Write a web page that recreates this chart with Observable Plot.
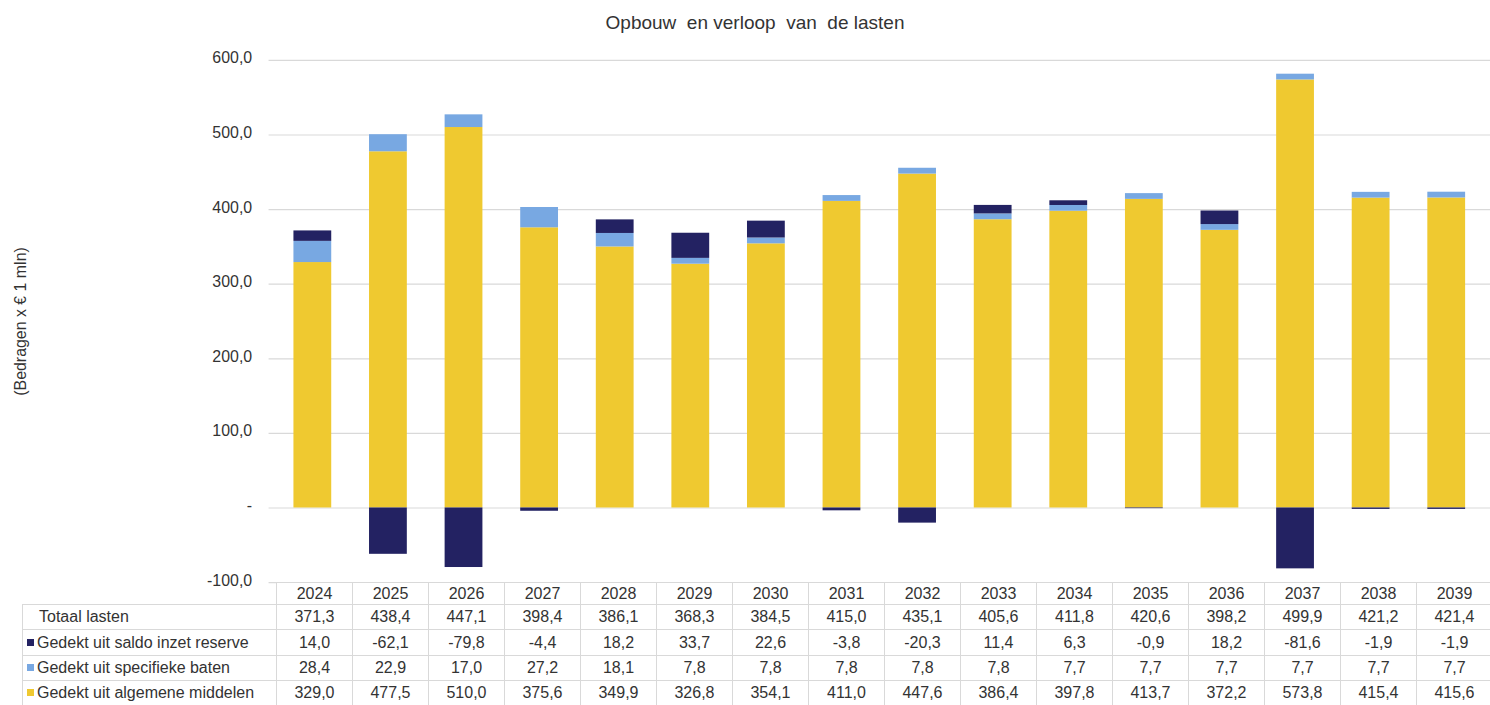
<!DOCTYPE html>
<html>
<head>
<meta charset="utf-8">
<script src="https://cdn.jsdelivr.net/npm/d3@7"></script>
<script src="https://cdn.jsdelivr.net/npm/@observablehq/plot@0.6"></script>
<style>
  html, body { margin: 0; padding: 0; overflow: hidden; background: #fff; }
  #wrap { position: relative; width: 1490px; height: 705px; font-family: "Liberation Sans", Arial, sans-serif; color: #333; }
  #title { position: absolute; left: 0; top: 0; width: 1510px; height: 40px; line-height: 46px; text-align: center; font-size: 19px; color: #333; }
  #chart { position: absolute; left: 0; top: 40px; }
  table { position: absolute; border-collapse: collapse; table-layout: fixed; font-size: 16px; color: #333; background: transparent; }
  td { border: 1px solid #d9d9d9; padding: 0; text-align: center; white-space: nowrap; overflow: hidden; background: #fff; }
  td.lab { text-align: left; padding-left: 4px; }
  td.empty { border: none; border-right: 1px solid #d9d9d9; background: transparent; }
  .sw { display: inline-block; width: 7px; height: 7px; margin-right: 3px; vertical-align: 2px; }
</style>
</head>
<body>
<div id="wrap">
  <div id="title">Opbouw&nbsp; en verloop&nbsp; van&nbsp; de lasten</div>
  <div id="chart"></div>
</div>
<script>
const years = ["2024","2025","2026","2027","2028","2029","2030","2031","2032","2033","2034","2035","2036","2037","2038","2039"];
const totaal = [371.3,438.4,447.1,398.4,386.1,368.3,384.5,415.0,435.1,405.6,411.8,420.6,398.2,499.9,421.2,421.4];
const saldo = [14.0,-62.1,-79.8,-4.4,18.2,33.7,22.6,-3.8,-20.3,11.4,6.3,-0.9,18.2,-81.6,-1.9,-1.9];
const baten = [28.4,22.9,17.0,27.2,18.1,7.8,7.8,7.8,7.8,7.8,7.7,7.7,7.7,7.7,7.7,7.7];
const algemeen = [329.0,477.5,510.0,375.6,349.9,326.8,354.1,411.0,447.6,386.4,397.8,413.7,372.2,573.8,415.4,415.6];

const seriesNames = ["Gedekt uit algemene middelen", "Gedekt uit specifieke baten", "Gedekt uit saldo inzet reserve"];
const seriesColors = ["#EFC930", "#78A8E2", "#232262"];
const yTicks = [-100, 0, 100, 200, 300, 400, 500, 600];
const yLabel = "(Bedragen x € 1 mln)";

const fmt = v => v.toFixed(1).replace(".", ",");

const rows = [];
years.forEach((y, i) => {
  rows.push({year: y, serie: seriesNames[0], value: algemeen[i]});
  rows.push({year: y, serie: seriesNames[1], value: baten[i]});
  rows.push({year: y, serie: seriesNames[2], value: saldo[i]});
});

const W = 1498, H = 665, ML = 270, MT = 20, MB = 120;

const chart = Plot.plot({
  width: W,
  height: H,
  marginLeft: ML,
  marginRight: 0,
  marginTop: MT,
  marginBottom: MB,
  style: {fontFamily: "'Liberation Sans', Arial, sans-serif", fontSize: "16px", color: "#333", background: "white"},
  x: {domain: years, paddingInner: 0.5, paddingOuter: 0.25, axis: null},
  y: {domain: [-100, 600], ticks: yTicks, label: null},
  color: {domain: seriesNames, range: seriesColors},
  marks: [
    Plot.ruleY(yTicks, {stroke: "#d9d9d9", strokeWidth: 1.2}),
    Plot.barY(rows, Plot.stackY({order: seriesNames}, {x: "year", y: "value", fill: "serie", z: "serie"})),
    Plot.axisY({ticks: yTicks, tickSize: 0, tickPadding: 17, fontSize: 16, label: null, dy: -2,
      tickFormat: d => d === 0 ? "-" : fmt(d)}),
    Plot.text([yLabel], {frameAnchor: "left", dx: -249, rotate: -90, textAnchor: "middle", fontSize: 16, fill: "#333"})
  ]
});
document.getElementById("chart").appendChild(chart);

// Data table aligned with the band scale
const xs = chart.scale("x");
const step = xs.step;
const firstLeft = xs.apply(years[0]) - step * 0.25;
const tbl = document.createElement("table");
tbl.style.left = "22px";
tbl.style.top = "582px";
tbl.style.width = (firstLeft - 22 + step * years.length) + "px";

const cg = document.createElement("colgroup");
const c0 = document.createElement("col"); c0.style.width = (firstLeft - 22) + "px"; cg.appendChild(c0);
years.forEach(() => { const c = document.createElement("col"); c.style.width = step + "px"; cg.appendChild(c); });
tbl.appendChild(cg);

function addRow(label, swatch, values, height, isHeader) {
  const tr = document.createElement("tr");
  tr.style.height = height + "px";
  const td0 = document.createElement("td");
  if (isHeader) { td0.className = "empty"; }
  else {
    td0.className = "lab";
    if (swatch) {
      const s = document.createElement("span"); s.className = "sw"; s.style.background = swatch; td0.appendChild(s);
      td0.appendChild(document.createTextNode(label));
    } else {
      td0.style.paddingLeft = "16px";
      td0.textContent = label;
    }
  }
  tr.appendChild(td0);
  values.forEach(v => { const td = document.createElement("td"); td.textContent = v; tr.appendChild(td); });
  tbl.appendChild(tr);
}
addRow("", null, years, 22, true);
addRow("Totaal lasten", null, totaal.map(fmt), 25, false);
addRow(seriesNames[2], seriesColors[2], saldo.map(fmt), 26, false);
addRow(seriesNames[1], seriesColors[1], baten.map(fmt), 25, false);
addRow(seriesNames[0], seriesColors[0], algemeen.map(fmt), 25, false);
document.getElementById("wrap").appendChild(tbl);
</script>
</body>
</html>
